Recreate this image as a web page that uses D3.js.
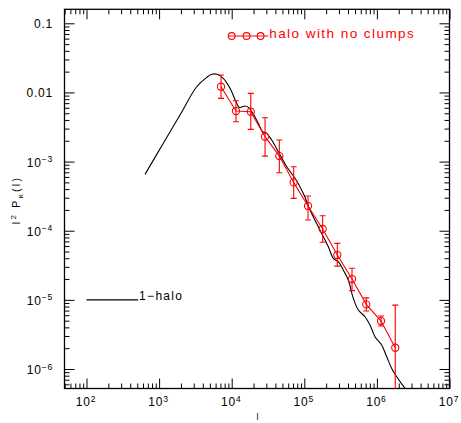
<!DOCTYPE html>
<html><head><meta charset="utf-8">
<script src="https://cdn.jsdelivr.net/npm/d3@7"></script>
<style>
html,body{margin:0;padding:0;background:#fff;}
svg{display:block;font-family:"Liberation Sans",Arial,sans-serif;}
</style></head>
<body><svg id="c" width="461" height="423"></svg>
<script>
// ---- data ----
const haloL = [640,1143,1941,3296,4529,5309,6339,7656,9484,11460,12740,15240,16940,19860,23230,26730,30340,35560,43850,57280,74470,96830,119900,164400,214300,250600,293800,344400,403600,473200,554600,685500,803500,941900,1164000,1365000,1600000,1875000,2438000];
const haloP = [6.53e-4,1.84e-3,4.71e-3,0.01208,0.01652,0.01828,0.01828,0.0160,0.01146,7.33e-3,6.08e-3,6.35e-3,6.08e-3,4.88e-3,3.57e-3,2.70e-3,2.56e-3,2.05e-3,1.39e-3,8.41e-4,5.73e-4,3.48e-4,1.99e-4,1.02e-4,5.86e-5,3.99e-5,3.56e-5,2.70e-5,1.94e-5,1.05e-5,7.13e-6,5.70e-6,4.33e-6,2.93e-6,2.22e-6,1.50e-6,1.02e-6,7.73e-7,5.25e-7];

const noClumpL  = [7130,11450,18300,28800,45300,71400,112500,179000,285000,454000,714000,1140000,1790000];
const noClumpP  = [0.0121,5.38e-3,5.26e-3,2.29e-3,1.20e-3,5.0e-4,2.28e-4,1.06e-4,4.45e-5,2.0e-5,8.6e-6,4.94e-6,2.03e-6];
const noClumpHi = [0.0179,7.58e-3,9.7e-3,4.31e-3,2.05e-3,8.4e-4,3.18e-4,1.65e-4,6.56e-5,2.86e-5,1.07e-5,5.84e-6,8.4e-6];
const noClumpLo = [8.22e-3,3.77e-3,2.92e-3,1.20e-3,6.9e-4,2.94e-4,1.43e-4,6.8e-5,3.08e-5,1.36e-5,6.9e-6,4.18e-6,1e-7];

const xTickValues = [1e2,1e3,1e4,1e5,1e6,1e7];
const xTickBase   = ["10","10","10","10","10","10"];
const xTickExp    = ["2","3","4","5","6","7"];
const yTickValues = [0.1,0.01,1e-3,1e-4,1e-5,1e-6];
const yTickBase   = ["0.1","0.01","10","10","10","10"];
const yTickExp    = ["","","\u22123","\u22124","\u22125","\u22126"];

const legendHaloLine = [100, 514];     // l range of black legend line
const legendHaloP = 1e-5;
const legendClumpLine = [8935, 31800];
const legendClumpPts = [1e4, 1.6e4, 2.5e4];
const legendClumpP = 0.0655;

// ---- layout ----
const L = 64.5, R = 449.5, T = 9.3, B = 388.5;
const x = d3.scaleLog().domain([Math.pow(10, 2 - 22/72.6), 1e7]).range([L, R]);
const y = d3.scaleLog().domain([Math.pow(10, -1 + 14/69.14), Math.pow(10, -6 - 19.5/69.14)]).range([T, B]);

const svg = d3.select("#c");
svg.append("defs").append("clipPath").attr("id","clip")
  .append("rect").attr("x",L).attr("y",T).attr("width",R-L).attr("height",B-T);

function minors(lo, hi){
  const out=[];
  for(let d=lo; d<hi; d++) for(let k=2;k<=9;k++) out.push(k*Math.pow(10,d));
  return out;
}
const xMinor = minors(1,7).filter(v=>v>=x.domain()[0]&&v<=x.domain()[1]);
const yMinor = minors(-7,0).filter(v=>v<=y.domain()[0]&&v>=y.domain()[1]);

function axisGroup(gen, tx, ty){
  const g = svg.append("g").attr("transform",`translate(${tx},${ty})`).call(gen);
  g.select(".domain").remove();
  g.selectAll(".tick line").attr("stroke","#000").attr("stroke-width",1);
  return g;
}
const MAJ=10, MIN=5;
// bottom
const gxb = axisGroup(d3.axisBottom(x).tickValues(xTickValues).tickSize(-MAJ).tickFormat(""),0,B);
axisGroup(d3.axisBottom(x).tickValues(xMinor).tickSize(-MIN).tickFormat(""),0,B);
// top
axisGroup(d3.axisTop(x).tickValues(xTickValues).tickSize(-MAJ).tickFormat(""),0,T);
axisGroup(d3.axisTop(x).tickValues(xMinor).tickSize(-MIN).tickFormat(""),0,T);
// left
const gyl = axisGroup(d3.axisLeft(y).tickValues(yTickValues).tickSize(-MAJ).tickFormat(""),L,0);
axisGroup(d3.axisLeft(y).tickValues(yMinor).tickSize(-MIN).tickFormat(""),L,0);
// right
axisGroup(d3.axisRight(y).tickValues(yTickValues).tickSize(-MAJ).tickFormat(""),R,0);
axisGroup(d3.axisRight(y).tickValues(yMinor).tickSize(-MIN).tickFormat(""),R,0);

svg.append("rect").attr("x",L).attr("y",T).attr("width",R-L).attr("height",B-T)
  .attr("fill","none").attr("stroke","#000").attr("stroke-width",1.3);

// tick labels
gxb.selectAll(".tick").each(function(d,i){
  const t = d3.select(this).append("text").attr("x",-1).attr("y",17.5)
    .attr("text-anchor","middle").attr("fill","#000").attr("font-size",12).attr("letter-spacing",0.8);
  t.append("tspan").text(xTickBase[i]);
  t.append("tspan").attr("dy",-4.5).attr("font-size",8.5).text(xTickExp[i]);
});
gyl.selectAll(".tick").each(function(d,i){
  const t = d3.select(this).append("text").attr("x",-11.5).attr("y",4.5)
    .attr("text-anchor","end").attr("fill","#000").attr("font-size",12).attr("letter-spacing",0.8);
  t.append("tspan").text(yTickBase[i]);
  if(yTickExp[i]) t.append("tspan").attr("dy",-4.5).attr("font-size",8.5).text(yTickExp[i]);
});

// axis titles
svg.append("text").attr("x",257.5).attr("y",419.5).attr("text-anchor","middle")
  .attr("font-size",9).attr("fill","#000").text("l");
const yt = svg.append("text").attr("transform","translate(20,200) rotate(-90)")
  .attr("text-anchor","middle").attr("font-size",10.5).attr("letter-spacing",2.3).attr("fill","#000");
yt.append("tspan").text("l");
yt.append("tspan").attr("dy",-4).attr("font-size",8).text("2");
yt.append("tspan").attr("dy",4).text(" P");
yt.append("tspan").attr("dy",3).attr("font-size",8).text("\u03ba");
yt.append("tspan").attr("dy",-3).text("(l)");

// plot marks
const plot = svg.append("g").attr("clip-path","url(#clip)");
const line = d3.line().x(d=>x(d[0])).y(d=>y(d[1]));
plot.append("path").datum(haloL.map((l,i)=>[l,haloP[i]]))
  .attr("d", line.curve(d3.curveCatmullRom)).attr("fill","none").attr("stroke","#000").attr("stroke-width",1.1);

const red = "#ff0000";
const pts = noClumpL.map((l,i)=>({l, p:noClumpP[i], hi:noClumpHi[i], lo:noClumpLo[i]}));
plot.append("path").datum(pts.map(d=>[d.l,d.p]))
  .attr("d", d3.line().x(d=>x(d[0])).y(d=>y(d[1]))).attr("fill","none").attr("stroke",red).attr("stroke-width",1.1);
const eb = plot.append("g").attr("stroke",red).attr("stroke-width",1.1).attr("fill","none");
eb.selectAll("line.v").data(pts).join("line").attr("class","v")
  .attr("x1",d=>x(d.l)).attr("x2",d=>x(d.l)).attr("y1",d=>y(d.hi)).attr("y2",d=>y(d.lo));
eb.selectAll("line.h").data(pts).join("line").attr("class","h")
  .attr("x1",d=>x(d.l)-3).attr("x2",d=>x(d.l)+3).attr("y1",d=>y(d.hi)).attr("y2",d=>y(d.hi));
eb.selectAll("line.l").data(pts).join("line").attr("class","l")
  .attr("x1",d=>x(d.l)-3).attr("x2",d=>x(d.l)+3).attr("y1",d=>y(d.lo)).attr("y2",d=>y(d.lo));
eb.selectAll("circle").data(pts).join("circle")
  .attr("cx",d=>x(d.l)).attr("cy",d=>y(d.p)).attr("r",3.6);

// legends
svg.append("line").attr("x1",x(legendHaloLine[0])).attr("x2",x(legendHaloLine[1]))
  .attr("y1",y(legendHaloP)).attr("y2",y(legendHaloP)).attr("stroke","#000").attr("stroke-width",1.1);
svg.append("text").attr("x",x(legendHaloLine[1])+1).attr("y",y(legendHaloP)+0.5)
  .attr("font-size",12).attr("letter-spacing",1.3).attr("fill","#000").text("1\u2212halo");

svg.append("line").attr("x1",x(legendClumpLine[0])).attr("x2",x(legendClumpLine[1]))
  .attr("y1",y(legendClumpP)).attr("y2",y(legendClumpP)).attr("stroke",red).attr("stroke-width",1.1);
svg.selectAll("circle.leg").data(legendClumpPts).join("circle").attr("class","leg")
  .attr("cx",d=>x(d)).attr("cy",y(legendClumpP)).attr("r",3.4)
  .attr("fill","none").attr("stroke",red).attr("stroke-width",1.1);
svg.append("text").attr("x",x(legendClumpLine[1])+1).attr("y",y(legendClumpP)+1.5)
  .attr("font-size",13.5).attr("letter-spacing",1.45).attr("fill",red).text("halo with no clumps");
</script></body></html>
